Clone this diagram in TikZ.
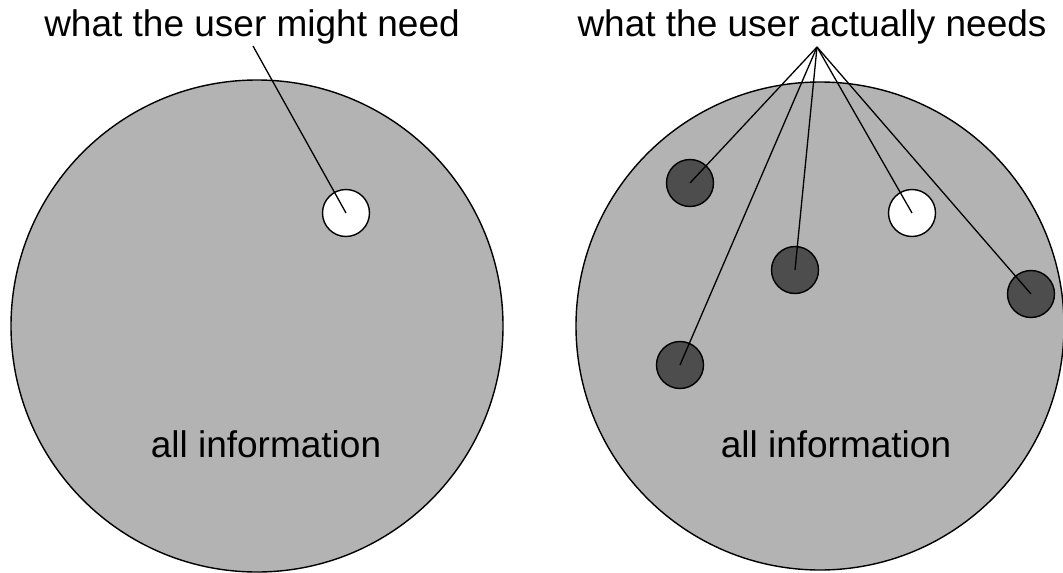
\documentclass[tikz,border=0pt]{standalone}
\usepackage{fontspec}
\setmainfont{Liberation Sans}
\definecolor{infogray}{HTML}{B3B3B3}
\definecolor{needdark}{HTML}{4D4D4D}
\begin{document}
\begin{tikzpicture}[x=1pt,y=-1pt,
  bigdisc/.style={circle,draw=black,line width=1.4pt,fill=infogray,inner sep=0pt,minimum size=#1},
  smalldisc/.style={circle,draw=black,line width=1.4pt,inner sep=0pt,minimum size=47pt},
  lightdisc/.style={smalldisc,fill=white},
  darkdisc/.style={smalldisc,fill=needdark},
  pointer/.style={draw=black,line width=1.3pt},
  caption/.style={anchor=base,inner sep=0pt,font=\fontsize{37}{44}\selectfont}]
\useasboundingbox (0,0) rectangle (1063,573);

% left: all information with the one item the user might need
\node[bigdisc=492pt] (allL) at (257,326) {};
\node[caption] (infoL) at (266,457) {all information};
\node[lightdisc] (mightC) at (346,213) {};
\node[caption] (mightT) at (252,36) {what the user might need};
\coordinate (mightP) at (253,46);
\draw[pointer] (mightP) -- (mightC.center);

% right: all information with the items the user actually needs
\node[bigdisc=488pt] (allR) at (820,326) {};
\node[caption] (infoR) at (836,457) {all information};
\node[darkdisc] (n1) at (690,183) {};
\node[darkdisc] (n2) at (795,270) {};
\node[darkdisc] (n3) at (680,365) {};
\node[lightdisc] (n4) at (912,213) {};
\node[darkdisc] (n5) at (1031,294) {};
\node[caption] (needT) at (812,36) {what the user actually needs};
\coordinate (hub) at (817,47);
\foreach \n in {n1,n2,n3,n4,n5}
  \draw[pointer] (hub) -- (\n.center);
\end{tikzpicture}
\end{document}
